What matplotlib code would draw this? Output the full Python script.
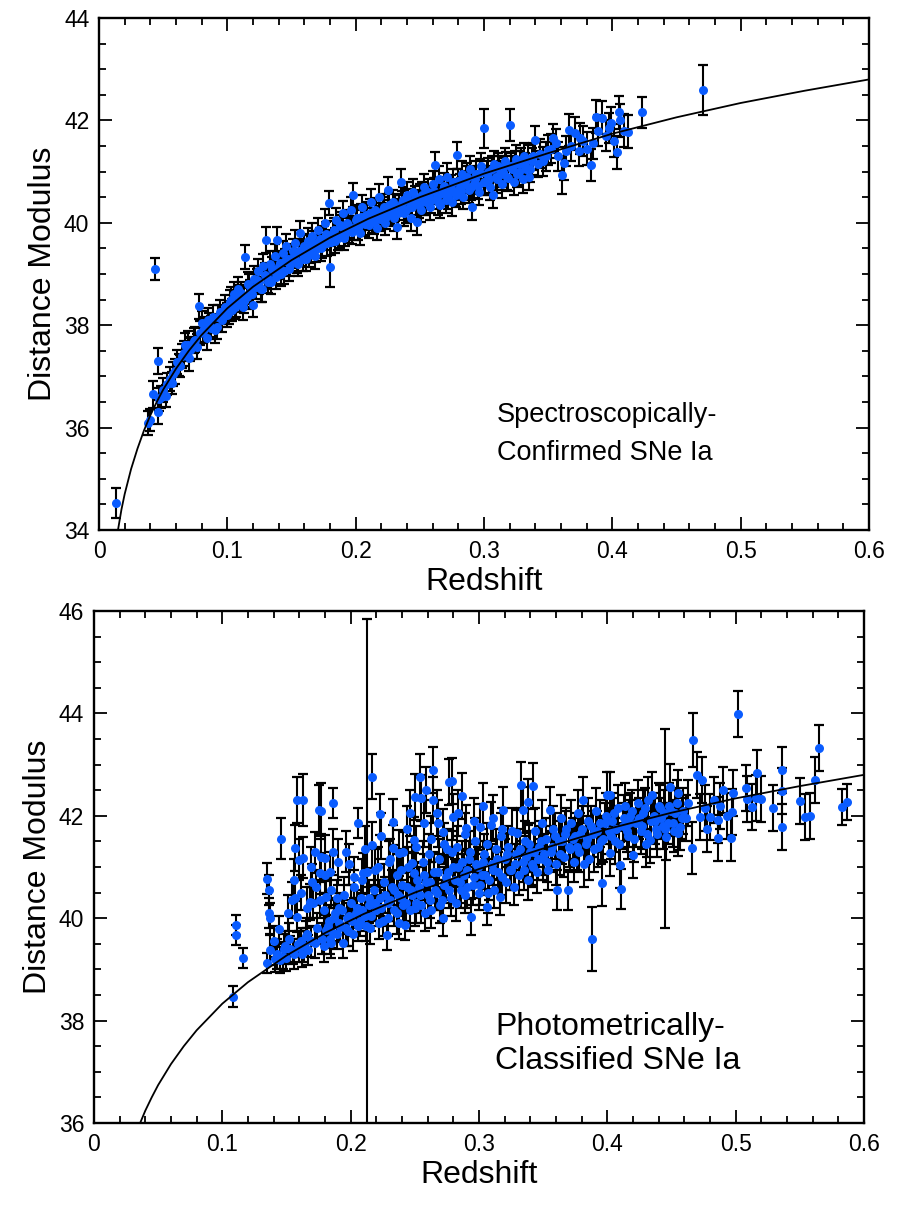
import matplotlib
matplotlib.use('Agg')
import matplotlib.pyplot as plt
from matplotlib.ticker import MultipleLocator, FuncFormatter

plt.rcParams['font.family'] = ['Liberation Sans', 'DejaVu Sans']

# model distance-modulus curve
model_z = [0.0148, 0.0175, 0.02, 0.025, 0.03, 0.035, 0.04, 0.045, 0.05, 0.06,
           0.07, 0.08, 0.10, 0.12, 0.15, 0.18, 0.21, 0.25, 0.30, 0.35,
           0.40, 0.45, 0.50, 0.55, 0.60]
model_mu = [34.0, 34.40, 34.70, 35.19, 35.59, 35.94, 36.24, 36.50, 36.74, 37.15,
            37.50, 37.81, 38.33, 38.75, 39.27, 39.71, 40.08, 40.50, 40.96, 41.36,
            41.74, 42.06, 42.34, 42.58, 42.80]

# top panel: spectroscopically confirmed
spec_z = [
    0.0133, 0.038, 0.040, 0.042, 0.044, 0.046, 0.046, 0.047, 0.050, 0.052,
    0.055, 0.057, 0.059, 0.061, 0.063, 0.065, 0.067, 0.069, 0.070, 0.072,
    0.074, 0.076, 0.078, 0.079, 0.080, 0.082, 0.084, 0.085, 0.087, 0.089,
    0.090, 0.092, 0.094, 0.096, 0.098, 0.100, 0.102, 0.104, 0.105, 0.107,
    0.108, 0.110, 0.112, 0.114, 0.115, 0.116, 0.118, 0.120, 0.121, 0.122,
    0.124, 0.125, 0.127, 0.128, 0.130, 0.131, 0.133, 0.134, 0.136, 0.137,
    0.139, 0.140, 0.142, 0.143, 0.145, 0.146, 0.148, 0.150, 0.151, 0.153,
    0.155, 0.157, 0.158, 0.160, 0.161, 0.163, 0.165, 0.166, 0.168, 0.170,
    0.171, 0.173, 0.175, 0.176, 0.178, 0.179, 0.180, 0.182, 0.184, 0.185,
    0.187, 0.188, 0.190, 0.191, 0.193, 0.195, 0.196, 0.198, 0.199, 0.201,
    0.203, 0.205, 0.206, 0.208, 0.210, 0.212, 0.213, 0.215, 0.217, 0.218,
    0.220, 0.222, 0.223, 0.225, 0.227, 0.229, 0.230, 0.232, 0.234, 0.235,
    0.237, 0.238, 0.240, 0.242, 0.243, 0.245, 0.247, 0.248, 0.250, 0.251,
    0.253, 0.255, 0.256, 0.258, 0.260, 0.262, 0.263, 0.265, 0.266, 0.268,
    0.270, 0.271, 0.273, 0.275, 0.276, 0.278, 0.279, 0.281, 0.283, 0.284,
    0.286, 0.288, 0.289, 0.291, 0.292, 0.294, 0.296, 0.298, 0.2997, 0.301,
    0.303, 0.305, 0.307, 0.308, 0.310, 0.312, 0.314, 0.316, 0.318, 0.320,
    0.321, 0.323, 0.325, 0.326, 0.328, 0.330, 0.331, 0.333, 0.335, 0.337,
    0.340, 0.342, 0.348, 0.350, 0.354, 0.358, 0.361, 0.362, 0.366, 0.368,
    0.371, 0.374, 0.377, 0.380, 0.383, 0.385, 0.387, 0.389, 0.392, 0.395,
    0.397, 0.399, 0.401, 0.404, 0.405, 0.406, 0.409, 0.412, 0.423, 0.471,
    0.101, 0.103, 0.106, 0.109, 0.111, 0.113, 0.117, 0.119, 0.123, 0.126,
    0.129, 0.132, 0.135, 0.138, 0.141, 0.144, 0.147, 0.149, 0.152, 0.154,
    0.156, 0.159, 0.162, 0.164, 0.167, 0.169, 0.172, 0.174, 0.177, 0.181,
    0.183, 0.186, 0.189, 0.192, 0.194, 0.197, 0.200, 0.202, 0.204, 0.207,
    0.209, 0.211, 0.214, 0.216, 0.219, 0.221, 0.224, 0.226, 0.228, 0.231,
    0.233, 0.236, 0.239, 0.241, 0.244, 0.246, 0.249, 0.252, 0.254, 0.257,
    0.259, 0.261, 0.264, 0.267, 0.269, 0.272, 0.274, 0.277, 0.280, 0.282,
    0.285, 0.287, 0.290, 0.293, 0.295, 0.297, 0.300, 0.302, 0.304, 0.306,
    0.309, 0.311, 0.313, 0.315, 0.317, 0.319, 0.322, 0.324, 0.327, 0.329,
    0.332, 0.334, 0.336, 0.338, 0.344, 0.346, 0.352, 0.356, 0.364, 0.375,
    0.048, 0.053, 0.058, 0.062, 0.066, 0.071, 0.075, 0.081, 0.086, 0.093,
]
spec_mu = [
    34.53, 36.09, 36.15, 36.65, 39.10, 37.30, 36.30, 36.55, 36.73, 36.62,
    36.95, 36.87, 37.10, 37.28, 37.20, 37.40, 37.61, 37.62, 37.35, 37.55,
    37.70, 37.58, 38.37, 37.85, 38.05, 37.92, 37.75, 38.10, 37.95, 38.15,
    37.90, 37.97, 38.26, 38.10, 38.35, 38.20, 38.45, 38.30, 38.60, 38.40,
    38.70, 38.50, 38.35, 39.33, 38.55, 38.80, 38.65, 38.39, 38.90, 38.75,
    39.05, 38.85, 38.70, 39.15, 39.66, 38.95, 39.20, 38.85, 39.05, 39.35,
    39.66, 39.15, 39.00, 39.40, 39.25, 39.55, 39.10, 39.30, 39.45, 39.60,
    39.20, 39.80, 39.40, 39.55, 39.30, 39.65, 39.45, 39.75, 39.35, 39.60,
    39.86, 39.50, 39.70, 40.00, 39.60, 40.39, 39.14, 39.80, 39.65, 40.05,
    39.75, 39.95, 40.19, 39.70, 40.00, 39.85, 40.25, 40.54, 39.90, 40.10,
    39.80, 40.30, 40.00, 40.15, 39.95, 40.40, 40.05, 40.25, 39.90, 40.50,
    40.15, 40.30, 40.00, 40.64, 40.20, 40.40, 40.10, 39.92, 40.30, 40.80,
    40.45, 40.20, 40.55, 40.30, 40.10, 40.60, 40.40, 40.02, 40.50, 40.25,
    40.70, 40.40, 40.60, 40.30, 40.75, 41.13, 40.50, 40.85, 40.35, 40.65,
    40.45, 40.90, 40.60, 40.40, 40.80, 40.55, 41.32, 40.70, 40.95, 40.50,
    40.85, 40.65, 41.05, 40.31, 40.75, 40.95, 40.60, 41.10, 41.85, 40.80,
    41.00, 40.70, 40.54, 41.15, 40.85, 41.05, 40.75, 41.20, 40.90, 41.91,
    41.10, 40.80, 41.25, 40.95, 41.15, 40.85, 41.30, 41.05, 40.90, 41.20,
    41.62, 41.15, 41.30, 41.42, 41.65, 41.30, 40.93, 41.16, 41.81, 41.50,
    41.75, 41.40, 41.60, 41.45, 41.13, 41.55, 42.07, 41.80, 42.05, 41.70,
    41.85, 41.95, 41.60, 41.38, 42.16, 42.00, 41.80, 41.78, 42.16, 42.59,
    38.25, 38.50, 38.35, 38.55, 38.62, 38.48, 38.78, 38.60, 38.88, 38.70,
    38.98, 38.85, 39.10, 38.95, 39.22, 39.05, 39.30, 39.18, 39.35, 39.25,
    39.45, 39.30, 39.55, 39.38, 39.60, 39.48, 39.68, 39.55, 39.78, 39.62,
    39.85, 39.70, 39.92, 39.78, 39.95, 39.82, 40.05, 39.90, 40.12, 39.98,
    40.10, 40.20, 40.02, 40.18, 40.08, 40.25, 40.12, 40.35, 40.18, 40.30,
    40.20, 40.38, 40.25, 40.42, 40.30, 40.48, 40.35, 40.55, 40.42, 40.50,
    40.45, 40.62, 40.40, 40.58, 40.72, 40.50, 40.68, 40.60, 40.82, 40.62,
    40.75, 40.90, 40.70, 40.85, 40.72, 40.98, 40.80, 40.95, 40.85, 41.05,
    40.90, 41.10, 40.95, 41.00, 41.12, 40.88, 41.05, 41.15, 41.00, 41.20,
    41.10, 41.25, 41.05, 41.30, 41.35, 41.20, 41.45, 41.55, 41.40, 41.65,
    36.60, 36.85, 37.05, 37.22, 37.45, 37.52, 37.72, 37.88, 38.00, 38.15,
]
spec_err = [
    0.29, 0.24, 0.22, 0.26, 0.21, 0.26, 0.24, 0.22, 0.24, 0.22,
    0.24, 0.22, 0.24, 0.24, 0.22, 0.24, 0.24, 0.26, 0.24, 0.22,
    0.24, 0.24, 0.24, 0.24, 0.22, 0.24, 0.24, 0.24, 0.22, 0.24,
    0.24, 0.24, 0.24, 0.24, 0.24, 0.24, 0.24, 0.22, 0.24, 0.24,
    0.24, 0.24, 0.24, 0.24, 0.24, 0.24, 0.24, 0.24, 0.26, 0.24,
    0.24, 0.24, 0.24, 0.24, 0.26, 0.24, 0.24, 0.24, 0.24, 0.24,
    0.26, 0.24, 0.24, 0.24, 0.24, 0.24, 0.24, 0.24, 0.24, 0.26,
    0.24, 0.24, 0.24, 0.24, 0.24, 0.24, 0.24, 0.24, 0.26, 0.24,
    0.24, 0.24, 0.24, 0.26, 0.24, 0.24, 0.40, 0.24, 0.24, 0.24,
    0.24, 0.26, 0.24, 0.24, 0.24, 0.24, 0.26, 0.24, 0.24, 0.24,
    0.24, 0.24, 0.24, 0.26, 0.24, 0.26, 0.24, 0.24, 0.24, 0.26,
    0.24, 0.26, 0.24, 0.26, 0.24, 0.24, 0.26, 0.24, 0.24, 0.26,
    0.24, 0.26, 0.24, 0.24, 0.26, 0.26, 0.24, 0.26, 0.26, 0.24,
    0.26, 0.24, 0.26, 0.24, 0.26, 0.26, 0.24, 0.26, 0.26, 0.24,
    0.26, 0.26, 0.24, 0.26, 0.26, 0.24, 0.26, 0.26, 0.26, 0.24,
    0.26, 0.26, 0.26, 0.26, 0.26, 0.26, 0.26, 0.26, 0.38, 0.26,
    0.26, 0.26, 0.26, 0.26, 0.26, 0.26, 0.26, 0.26, 0.26, 0.32,
    0.26, 0.26, 0.26, 0.26, 0.26, 0.26, 0.26, 0.26, 0.26, 0.26,
    0.28, 0.26, 0.28, 0.30, 0.28, 0.28, 0.37, 0.32, 0.32, 0.30,
    0.32, 0.30, 0.30, 0.32, 0.32, 0.30, 0.32, 0.30, 0.32, 0.30,
    0.30, 0.32, 0.32, 0.32, 0.32, 0.32, 0.32, 0.32, 0.30, 0.49,
    0.22, 0.24, 0.22, 0.24, 0.22, 0.24, 0.22, 0.24, 0.22, 0.24,
    0.24, 0.22, 0.24, 0.24, 0.22, 0.24, 0.24, 0.22, 0.24, 0.24,
    0.24, 0.24, 0.22, 0.24, 0.24, 0.24, 0.22, 0.24, 0.24, 0.24,
    0.24, 0.24, 0.24, 0.24, 0.24, 0.24, 0.24, 0.24, 0.24, 0.24,
    0.24, 0.26, 0.24, 0.26, 0.24, 0.26, 0.24, 0.26, 0.24, 0.26,
    0.26, 0.24, 0.26, 0.24, 0.26, 0.24, 0.26, 0.24, 0.26, 0.24,
    0.26, 0.26, 0.24, 0.26, 0.26, 0.24, 0.26, 0.26, 0.24, 0.26,
    0.26, 0.26, 0.26, 0.26, 0.26, 0.26, 0.26, 0.26, 0.26, 0.26,
    0.26, 0.26, 0.26, 0.26, 0.26, 0.26, 0.26, 0.26, 0.26, 0.26,
    0.26, 0.26, 0.26, 0.26, 0.28, 0.28, 0.28, 0.28, 0.30, 0.30,
    0.22, 0.22, 0.24, 0.22, 0.24, 0.22, 0.24, 0.22, 0.24, 0.24,
]

# bottom panel: photometrically classified
phot_z = [
    0.108, 0.1106, 0.1106, 0.116, 0.135, 0.135, 0.136, 0.136, 0.137, 0.137,
    0.140, 0.144, 0.145, 0.146, 0.148, 0.150, 0.152, 0.154, 0.155, 0.157,
    0.157, 0.158, 0.158, 0.159, 0.160, 0.160, 0.162, 0.163, 0.163, 0.165,
    0.167, 0.168, 0.170, 0.171, 0.172, 0.172, 0.174, 0.175, 0.176, 0.176,
    0.177, 0.177, 0.178, 0.180, 0.180, 0.181, 0.181, 0.183, 0.185, 0.185,
    0.186, 0.186, 0.186, 0.188, 0.190, 0.191, 0.192, 0.194, 0.195, 0.197,
    0.198, 0.200, 0.201, 0.203, 0.204, 0.206, 0.206, 0.208, 0.209, 0.210,
    0.211, 0.2127, 0.214, 0.215, 0.217, 0.217, 0.218, 0.220, 0.221, 0.223,
    0.223, 0.225, 0.226, 0.228, 0.229, 0.230, 0.232, 0.233, 0.233, 0.234,
    0.236, 0.237, 0.238, 0.238, 0.240, 0.241, 0.242, 0.243, 0.245, 0.246,
    0.247, 0.248, 0.249, 0.249, 0.250, 0.250, 0.252, 0.254, 0.254, 0.255,
    0.256, 0.258, 0.259, 0.259, 0.261, 0.262, 0.264, 0.264, 0.265, 0.267,
    0.267, 0.269, 0.270, 0.272, 0.272, 0.274, 0.275, 0.277, 0.277, 0.279,
    0.280, 0.280, 0.282, 0.283, 0.285, 0.287, 0.287, 0.289, 0.290, 0.291,
    0.293, 0.294, 0.295, 0.297, 0.298, 0.300, 0.301, 0.302, 0.304, 0.306,
    0.306, 0.308, 0.309, 0.310, 0.312, 0.313, 0.315, 0.316, 0.317, 0.319,
    0.320, 0.321, 0.323, 0.324, 0.326, 0.327, 0.329, 0.330, 0.331, 0.333,
    0.334, 0.334, 0.336, 0.338, 0.338, 0.340, 0.342, 0.342, 0.344, 0.345,
    0.347, 0.349, 0.350, 0.352, 0.354, 0.355, 0.356, 0.358, 0.360, 0.361,
    0.362, 0.364, 0.366, 0.367, 0.369, 0.370, 0.372, 0.374, 0.375, 0.377,
    0.378, 0.380, 0.381, 0.383, 0.385, 0.386, 0.388, 0.389, 0.391, 0.393,
    0.394, 0.396, 0.397, 0.399, 0.400, 0.401, 0.402, 0.402, 0.404, 0.406,
    0.408, 0.410, 0.411, 0.412, 0.414, 0.416, 0.418, 0.420, 0.422, 0.424,
    0.426, 0.428, 0.430, 0.432, 0.433, 0.435, 0.437, 0.439, 0.441, 0.443,
    0.445, 0.446, 0.448, 0.449, 0.451, 0.453, 0.455, 0.455, 0.457, 0.459,
    0.461, 0.463, 0.466, 0.467, 0.470, 0.472, 0.474, 0.476, 0.478, 0.480,
    0.483, 0.486, 0.486, 0.488, 0.490, 0.493, 0.496, 0.497, 0.498, 0.502,
    0.508, 0.509, 0.513, 0.516, 0.517, 0.520, 0.529, 0.536, 0.536, 0.536,
    0.550, 0.554, 0.558, 0.562, 0.565, 0.583, 0.587,
    0.179, 0.182, 0.184, 0.187, 0.189, 0.191, 0.193, 0.196, 0.199, 0.202,
    0.205, 0.207, 0.209, 0.212, 0.214, 0.216, 0.219, 0.222, 0.224, 0.227,
    0.229, 0.231, 0.234, 0.236, 0.239, 0.241, 0.244, 0.246, 0.248, 0.251,
    0.253, 0.255, 0.257, 0.260, 0.262, 0.263, 0.266, 0.268, 0.271, 0.273,
    0.276, 0.278, 0.281, 0.284, 0.286, 0.288, 0.291, 0.292, 0.296, 0.299,
    0.301, 0.303, 0.305, 0.307, 0.311, 0.314, 0.318, 0.322, 0.325, 0.328,
    0.332, 0.335, 0.337, 0.339, 0.341, 0.343, 0.346, 0.348, 0.351, 0.353,
    0.357, 0.359, 0.363, 0.365, 0.368, 0.371, 0.373, 0.376, 0.379, 0.382,
    0.384, 0.387, 0.390, 0.392, 0.395, 0.398, 0.403, 0.405, 0.407, 0.409,
    0.413, 0.415, 0.417, 0.419, 0.421, 0.425, 0.427, 0.429, 0.431, 0.434,
    0.436, 0.438, 0.440, 0.442, 0.444, 0.447, 0.450, 0.452, 0.454, 0.458,
    0.199, 0.203, 0.211, 0.219, 0.224, 0.231, 0.239, 0.244, 0.251, 0.257,
    0.263, 0.268, 0.273, 0.279, 0.284, 0.289, 0.296, 0.303, 0.311, 0.318,
    0.141, 0.143, 0.147, 0.149, 0.153, 0.156, 0.161, 0.164, 0.166, 0.169,
    0.151, 0.156, 0.161, 0.166, 0.169, 0.173, 0.179, 0.184, 0.189, 0.196,
]
phot_mu = [
    38.47, 39.87, 39.67, 39.22, 39.12, 40.77, 40.55, 40.10, 40.00, 39.38,
    39.55, 39.79, 39.18, 41.55, 39.40, 39.22, 39.60, 40.36, 39.35, 41.37,
    40.39, 40.03, 42.31, 39.50, 41.14, 39.44, 39.30, 42.31, 41.18, 39.65,
    39.38, 40.32, 40.70, 40.30, 41.29, 39.52, 39.80, 42.11, 40.36, 40.88,
    42.10, 41.20, 39.60, 41.18, 40.85, 40.41, 39.77, 39.95, 40.55, 39.52,
    42.25, 41.29, 39.71, 40.10, 41.10, 40.20, 39.83, 39.52, 40.45, 40.00,
    39.75, 40.30, 39.95, 40.60, 40.10, 41.86, 39.85, 40.40, 40.75, 40.88,
    40.05, 40.90, 40.25, 39.80, 42.76, 41.43, 40.55, 40.15, 41.00, 42.03,
    40.40, 39.95, 40.70, 39.67, 40.30, 41.10, 40.60, 41.88, 41.37, 40.15,
    40.85, 40.45, 39.90, 41.27, 40.65, 41.29, 39.87, 40.30, 41.00, 42.05,
    40.55, 41.08, 40.88, 41.53, 42.37, 40.20, 40.75, 42.76, 40.45, 42.35,
    41.10, 40.10, 42.50, 40.70, 41.25, 40.35, 42.89, 42.30, 40.90, 42.05,
    40.50, 41.15, 40.25, 41.68, 40.00, 40.80, 41.35, 42.66, 40.55, 42.68,
    41.98, 41.00, 40.30, 41.40, 40.70, 42.39, 41.10, 40.45, 41.76, 40.95,
    41.30, 40.03, 40.65, 41.50, 41.05, 40.50, 41.78, 40.85, 41.25, 40.22,
    41.45, 40.75, 41.82, 41.05, 40.55, 41.35, 40.90, 40.41, 41.60, 42.11,
    41.15, 40.70, 41.40, 40.95, 41.70, 40.60, 41.25, 41.66, 40.85, 42.60,
    42.11, 41.10, 41.50, 42.27, 40.75, 41.30, 42.58, 41.00, 41.70, 40.90,
    41.40, 41.85, 41.15, 41.55, 40.95, 42.11, 41.30, 41.75, 41.05, 40.55,
    41.50, 41.95, 41.20, 41.65, 40.55, 41.40, 41.85, 41.10, 41.60, 42.05,
    41.30, 41.75, 42.31, 41.45, 41.90, 41.15, 39.59, 41.65, 42.10, 41.40,
    41.85, 40.69, 41.55, 42.00, 42.41, 41.70, 41.27, 42.41, 41.90, 41.50,
    42.15, 41.04, 40.57, 41.80, 42.20, 41.60, 42.00, 41.23, 41.85, 42.25,
    41.70, 42.05, 41.45, 42.30, 41.53, 42.41, 41.90, 41.65, 42.15, 41.80,
    41.75, 41.59, 42.20, 42.56, 41.85, 42.05, 41.66, 42.44, 41.78, 42.10,
    41.95, 42.25, 41.37, 43.48, 42.80, 41.98, 42.70, 42.15, 41.75, 41.98,
    42.30, 41.92, 41.57, 42.20, 42.50, 42.00, 41.57, 42.07, 42.44, 43.99,
    42.54, 42.33, 42.17, 42.35, 42.84, 42.33, 42.15, 42.89, 42.48, 41.78,
    42.29, 41.98, 42.00, 42.70, 43.32, 42.17, 42.27,
    39.45, 39.85, 39.60, 40.00, 39.70, 39.90, 40.15, 39.80, 40.05, 39.70,
    40.20, 39.95, 40.15, 39.85, 40.40, 40.05, 40.30, 39.90, 40.20, 40.45,
    40.00, 40.35, 40.55, 40.10, 40.40, 40.25, 40.60, 40.15, 40.45, 40.30,
    40.60, 40.25, 40.85, 40.45, 40.70, 40.15, 40.55, 40.90, 40.35, 40.65,
    40.90, 40.40, 40.75, 41.00, 40.55, 40.85, 40.60, 41.15, 40.80, 41.00,
    40.65, 41.10, 40.85, 40.50, 40.95, 41.15, 40.80, 41.25, 40.95, 41.05,
    41.35, 40.95, 41.20, 41.45, 41.05, 41.30, 41.15, 41.50, 41.25, 41.10,
    41.40, 41.60, 41.25, 41.50, 41.75, 41.35, 41.55, 41.40, 41.65, 41.05,
    41.55, 41.80, 41.35, 41.70, 41.50, 41.85, 41.60, 42.05, 41.75, 41.45,
    41.95, 41.70, 41.85, 42.10, 41.55, 41.95, 41.80, 42.15, 41.65, 41.90,
    42.00, 41.75, 42.20, 41.95, 42.05, 41.85, 42.10, 41.70, 42.25, 41.95,
    41.05, 40.80, 41.35, 40.95, 41.60, 41.15, 40.95, 41.75, 41.40, 41.85,
    41.55, 41.85, 41.45, 41.30, 42.05, 41.65, 41.90, 42.20, 41.95, 41.75,
    39.20, 39.30, 39.25, 39.45, 39.40, 39.30, 39.55, 39.45, 39.70, 39.55,
    40.10, 40.75, 40.50, 40.20, 41.00, 40.60, 40.15, 40.90, 40.40, 41.30,
]
phot_err = [
    0.20, 0.20, 0.20, 0.20, 0.20, 0.30, 0.30, 0.30, 0.30, 0.30,
    0.30, 0.25, 0.25, 0.40, 0.30, 0.25, 0.30, 0.35, 0.25, 0.45,
    0.35, 0.30, 0.45, 0.25, 0.40, 0.30, 0.25, 0.50, 0.40, 0.30,
    0.30, 0.35, 0.35, 0.30, 0.40, 0.30, 0.30, 0.50, 0.35, 0.40,
    0.55, 0.45, 0.30, 0.45, 0.35, 0.35, 0.30, 0.30, 0.35, 0.30,
    0.30, 0.45, 0.30, 0.30, 0.45, 0.30, 0.30, 0.30, 0.35, 0.30,
    0.30, 0.35, 0.30, 0.35, 0.30, 0.30, 0.30, 0.35, 0.40, 0.40,
    0.30, 4.95, 0.35, 0.30, 0.44, 0.45, 0.35, 0.30, 0.40, 0.40,
    0.35, 0.30, 0.35, 0.30, 0.35, 0.40, 0.35, 0.45, 0.45, 0.30,
    0.40, 0.35, 0.30, 0.45, 0.35, 0.40, 0.30, 0.35, 0.40, 0.45,
    0.35, 0.40, 0.40, 0.45, 0.45, 0.35, 0.35, 0.45, 0.35, 0.45,
    0.40, 0.35, 0.45, 0.35, 0.40, 0.35, 0.45, 0.45, 0.40, 0.45,
    0.35, 0.40, 0.35, 0.45, 0.35, 0.40, 0.40, 0.45, 0.35, 0.45,
    0.45, 0.40, 0.35, 0.40, 0.40, 0.45, 0.40, 0.35, 0.45, 0.40,
    0.40, 0.35, 0.40, 0.45, 0.40, 0.35, 0.45, 0.40, 0.40, 0.35,
    0.40, 0.40, 0.45, 0.40, 0.35, 0.40, 0.40, 0.35, 0.45, 0.45,
    0.40, 0.40, 0.40, 0.40, 0.45, 0.35, 0.40, 0.45, 0.40, 0.45,
    0.45, 0.40, 0.40, 0.45, 0.40, 0.40, 0.45, 0.40, 0.45, 0.40,
    0.40, 0.45, 0.40, 0.40, 0.40, 0.45, 0.40, 0.45, 0.40, 0.40,
    0.40, 0.45, 0.40, 0.45, 0.40, 0.40, 0.45, 0.40, 0.45, 0.45,
    0.40, 0.45, 0.45, 0.40, 0.45, 0.40, 0.62, 0.45, 0.45, 0.40,
    0.45, 0.45, 0.45, 0.45, 0.45, 0.45, 0.45, 0.45, 0.45, 0.45,
    0.45, 0.45, 0.40, 0.45, 0.45, 0.45, 0.45, 0.45, 0.45, 0.45,
    0.45, 0.45, 0.45, 0.45, 0.45, 0.45, 0.45, 0.45, 0.45, 0.45,
    1.95, 0.45, 0.45, 0.45, 0.45, 0.45, 0.45, 0.45, 0.45, 0.45,
    0.45, 0.45, 0.50, 0.53, 0.45, 0.45, 0.45, 0.45, 0.45, 0.45,
    0.45, 0.45, 0.45, 0.45, 0.45, 0.45, 0.45, 0.45, 0.45, 0.45,
    0.45, 0.45, 0.45, 0.45, 0.45, 0.45, 0.45, 0.45, 0.45, 0.45,
    0.45, 0.45, 0.45, 0.45, 0.45, 0.35, 0.35,
    0.30, 0.35, 0.30, 0.35, 0.30, 0.35, 0.30, 0.35, 0.30, 0.35,
    0.35, 0.30, 0.35, 0.30, 0.35, 0.30, 0.35, 0.30, 0.35, 0.35,
    0.35, 0.40, 0.35, 0.40, 0.35, 0.40, 0.35, 0.40, 0.35, 0.40,
    0.40, 0.35, 0.40, 0.35, 0.40, 0.35, 0.40, 0.35, 0.40, 0.35,
    0.40, 0.35, 0.40, 0.40, 0.35, 0.40, 0.40, 0.35, 0.40, 0.40,
    0.40, 0.40, 0.35, 0.40, 0.40, 0.40, 0.35, 0.40, 0.40, 0.40,
    0.40, 0.40, 0.40, 0.40, 0.40, 0.40, 0.40, 0.40, 0.40, 0.40,
    0.40, 0.45, 0.40, 0.45, 0.40, 0.45, 0.40, 0.45, 0.40, 0.45,
    0.45, 0.40, 0.45, 0.40, 0.45, 0.40, 0.45, 0.40, 0.45, 0.40,
    0.45, 0.40, 0.45, 0.40, 0.45, 0.40, 0.45, 0.40, 0.45, 0.40,
    0.45, 0.40, 0.45, 0.40, 0.45, 0.40, 0.45, 0.40, 0.45, 0.40,
    0.40, 0.40, 0.45, 0.40, 0.45, 0.40, 0.40, 0.45, 0.40, 0.45,
    0.45, 0.45, 0.40, 0.40, 0.45, 0.40, 0.45, 0.45, 0.45, 0.40,
    0.25, 0.30, 0.25, 0.30, 0.25, 0.30, 0.25, 0.30, 0.30, 0.30,
    0.35, 0.40, 0.35, 0.40, 0.40, 0.35, 0.35, 0.40, 0.35, 0.40,
]

BLUE = '#0a5cff'


def style_axes(ax, ylo, yhi):
    ax.set_xlim(0, 0.6)
    ax.set_ylim(ylo, yhi)
    ax.xaxis.set_major_locator(MultipleLocator(0.1))
    ax.xaxis.set_minor_locator(MultipleLocator(0.02))
    ax.yaxis.set_major_locator(MultipleLocator(2))
    ax.yaxis.set_minor_locator(MultipleLocator(0.5))
    ax.xaxis.set_major_formatter(FuncFormatter(lambda v, p: '0' if abs(v) < 1e-9 else f'{v:.1f}'))
    ax.tick_params(which='both', direction='in', top=True, right=True,
                   width=1.3, labelsize=16.5, pad=7)
    ax.tick_params(which='major', length=9.5)
    ax.tick_params(which='minor', length=5)
    for s in ax.spines.values():
        s.set_linewidth(1.7)
    ax.set_xlabel('Redshift', fontsize=23, labelpad=3)
    ax.set_ylabel('Distance Modulus', fontsize=23, labelpad=4)


def draw(ax, z, mu, err):
    # error bars with caps first, blue dots on top
    ax.errorbar(z, mu, yerr=err, fmt='none', ecolor='black',
                elinewidth=1.5, capsize=3.5, capthick=1.6, zorder=2)
    ax.plot(z, mu, 'o', color=BLUE, markersize=6.5, markeredgewidth=0, zorder=2.5)
    ax.plot(model_z, model_mu, color='black', lw=1.3, zorder=3)


fig = plt.figure(figsize=(9, 12.08), dpi=100)

ax1 = fig.add_axes([0.11, 0.5613, 0.8556, 0.4238])
draw(ax1, spec_z, spec_mu, spec_err)
style_axes(ax1, 34, 44)
ax1.text(0.31, 35.87, 'Spectroscopically-\nConfirmed SNe Ia', fontsize=19.5,
         va='center', ha='left', linespacing=1.6)

ax2 = fig.add_axes([0.1044, 0.0704, 0.8556, 0.4238])
draw(ax2, phot_z, phot_mu, phot_err)
style_axes(ax2, 36, 46)
ax2.text(0.3125, 37.54, 'Photometrically-\nClassified SNe Ia', fontsize=23,
         va='center', ha='left', linespacing=1.2)

fig.savefig('out.png', dpi=100)
